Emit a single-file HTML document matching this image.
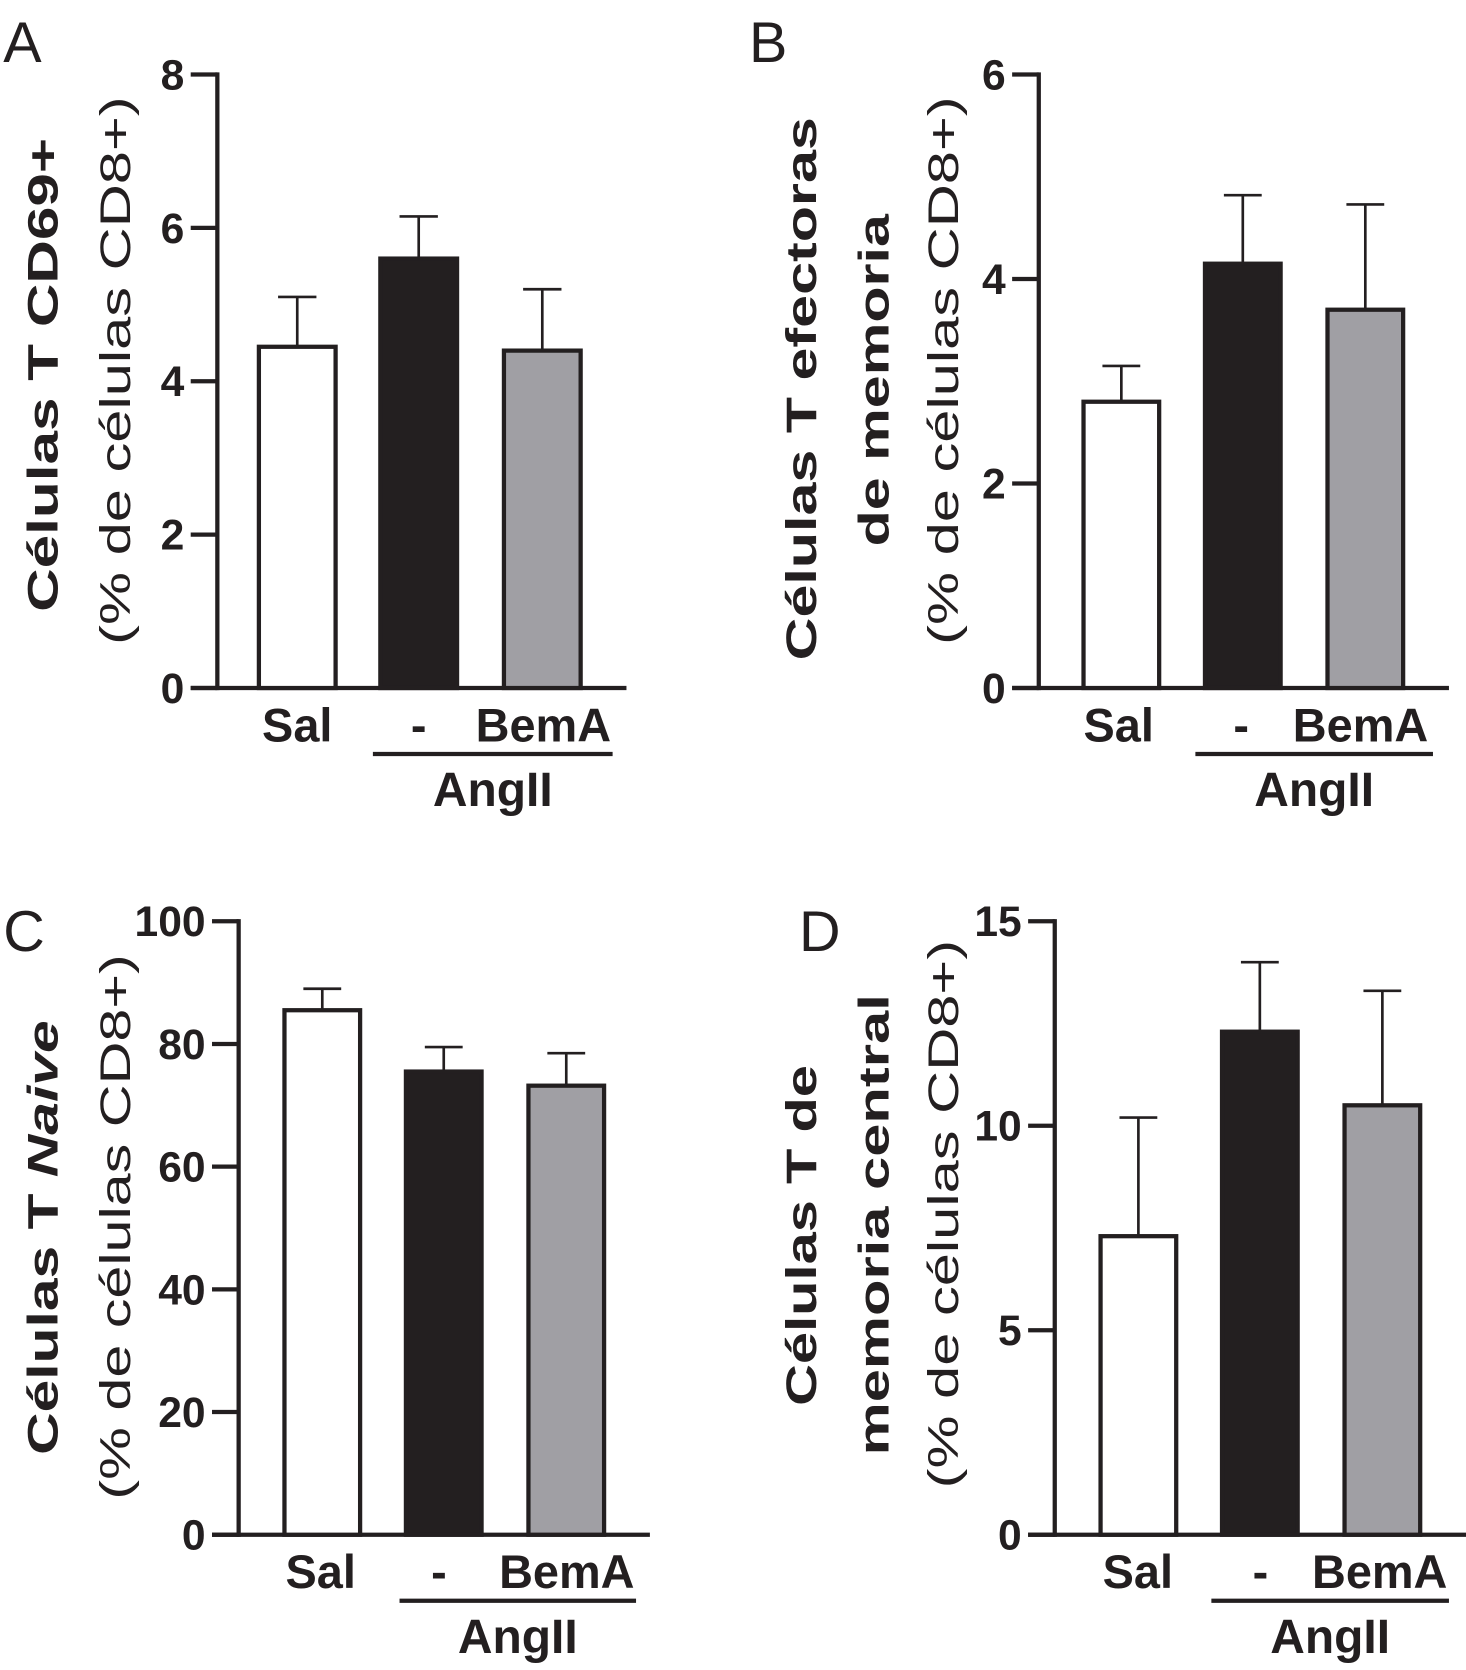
<!DOCTYPE html>
<html><head><meta charset="utf-8">
<style>
html,body{margin:0;padding:0;background:#fff;}
svg{display:block;}
text{font-family:"Liberation Sans",Arial,sans-serif;fill:#231f20;}
</style></head>
<body>
<svg id="fig" width="1466" height="1670" viewBox="0 0 1376 1568" preserveAspectRatio="none" xmlns="http://www.w3.org/2000/svg"></svg>
<script>
const categories = ["Sal", "-", "BemA"];
const valuesA = [4.45, 5.6, 4.4];
const errorsA = [0.65, 0.55, 0.8];
const ticksA = [0, 2, 4, 6, 8];
const valuesB = [2.8, 4.15, 3.7];
const errorsB = [0.35, 0.67, 1.03];
const ticksB = [0, 2, 4, 6];
const valuesC = [85.5, 75.5, 73.2];
const errorsC = [3.5, 4.0, 5.3];
const ticksC = [0, 20, 40, 60, 80, 100];
const valuesD = [7.3, 12.3, 10.5];
const errorsD = [2.9, 1.7, 2.8];
const ticksD = [0, 5, 10, 15];
const groupLabel = "AngII";

const NS = "http://www.w3.org/2000/svg";
const svg = document.getElementById('fig');
const fills = ["#ffffff", "#231f20", "#a09fa4"];
function mk(tag, attrs, parent){
  const e = document.createElementNS(NS, tag);
  for (const k in attrs) e.setAttribute(k, attrs[k]);
  (parent||svg).appendChild(e);
  return e;
}
function txt(s, attrs, parent){ const t = mk('text', attrs, parent); t.textContent = s; return t; }

function panel(cfg){
  const g = mk('g', {});
  
  
  const yMax = cfg.ticks[cfg.ticks.length-1];
  const y = v => cfg.y0 - (v / yMax) * (cfg.y0 - cfg.yTop);
  const L = txt(cfg.letter, {x: cfg.letterX, y: cfg.letterY, 'font-size': 54}, g);
  
  
  cfg.titles.forEach(tl => {
    const t = mk('text', {transform: `translate(${tl.x},${tl.cy}) rotate(-90)`, 'text-anchor': 'middle',
      'font-size': 40, 'font-weight': tl.bold ? 'bold' : 'normal', textLength: tl.len, lengthAdjust: 'spacingAndGlyphs'}, g);
    
    
    if (tl.italic) {
      t.appendChild(document.createTextNode(tl.text));
      const ts = mk('tspan', {'font-style': 'italic'}, t); ts.textContent = tl.italic;
    } else t.textContent = tl.text;
  });
  const ya = mk('line', {x1: cfg.ax, y1: cfg.yTop - 2, x2: cfg.ax, y2: cfg.y0 + 2, stroke: '#231f20', 'stroke-width': 4}, g);
  
  
  const xa = mk('line', {x1: cfg.ax - 25, y1: cfg.y0, x2: cfg.xEnd, y2: cfg.y0, stroke: '#231f20', 'stroke-width': 4}, g);
  
  
  cfg.ticks.forEach(tv => {
    const tk = mk('line', {x1: cfg.ax - 25, y1: y(tv), x2: cfg.ax, y2: y(tv), stroke: '#231f20', 'stroke-width': 4}, g);
    
    
    const tl = txt(String(tv), {x: cfg.ax - 31, y: y(tv) + 14, 'text-anchor': 'end', 'font-size': 40, 'font-weight': 'bold'}, g);
    
    
  });
  cfg.values.forEach((v, i) => {
    const x0 = cfg.barX[i], w = cfg.barW, cx = x0 + w/2;
    const e = cfg.errors[i];
    const el = mk('line', {x1: cx, y1: y(v), x2: cx, y2: y(v + e), stroke: '#231f20', 'stroke-width': 2.5}, g);
    
    
    const cap = mk('line', {x1: cx - w/4, y1: y(v + e), x2: cx + w/4, y2: y(v + e), stroke: '#231f20', 'stroke-width': 2.5}, g);
    
    
    const r = mk('rect', {x: x0, y: y(v), width: w, height: cfg.y0 - y(v), fill: fills[i], stroke: '#231f20', 'stroke-width': 4}, g);
    
    
    const lab = txt(categories[i], {x: cfg.labX[i], y: cfg.y0 + 50, 'text-anchor': 'middle', 'font-size': 44, 'font-weight': 'bold'}, g);
    
    
  });
  const gl = mk('line', {x1: cfg.grpX1, y1: cfg.y0 + 62, x2: cfg.grpX2, y2: cfg.y0 + 62, stroke: '#231f20', 'stroke-width': 4}, g);
  
  
  const gt = txt(groupLabel, {x: (cfg.grpX1 + cfg.grpX2)/2, y: cfg.y0 + 111, 'text-anchor': 'middle', 'font-size': 45, 'font-weight': 'bold'}, g);
  
  
}

panel({letter:'A', letterX:3, letterY:58, ax:204, yTop:70, y0:646, xEnd:588, ticks:ticksA, values:valuesA, errors:errorsA,
  barX:[243,357,473], barW:72, labX:[279,393,510], grpX1:350, grpX2:575,
  titles:[{x:54, cy:352, len:445, bold:true, text:'Células T CD69+'},
          {x:122, cy:348, len:515, text:'(% de células CD8+)'}]});
panel({letter:'B', letterX:703, letterY:58, ax:975, yTop:70, y0:646, xEnd:1360, ticks:ticksB, values:valuesB, errors:errorsB,
  barX:[1017,1131,1246], barW:71, labX:[1050,1165,1277], grpX1:1122, grpX2:1345,
  titles:[{x:766, cy:365, len:510, bold:true, text:'Células T efectoras'},
          {x:834, cy:357, len:312, bold:true, text:'de memoria'},
          {x:899, cy:348, len:515, text:'(% de células CD8+)'}]});
panel({letter:'C', letterX:3, letterY:893, ax:224, yTop:865, y0:1441, xEnd:610, ticks:ticksC, values:valuesC, errors:errorsC,
  barX:[267,381,496], barW:71, labX:[301,412,532], grpX1:375, grpX2:597,
  titles:[{x:54, cy:1162, len:408, bold:true, text:'Células T ', italic:'Naive'},
          {x:122, cy:1152, len:512, text:'(% de células CD8+)'}]});
panel({letter:'D', letterX:750, letterY:893, ax:990, yTop:865, y0:1441, xEnd:1376, ticks:ticksD, values:valuesD, errors:errorsD,
  barX:[1033,1147,1262], barW:71, labX:[1068,1183,1295], grpX1:1137, grpX2:1360,
  titles:[{x:766, cy:1160, len:320, bold:true, text:'Células T de'},
          {x:834, cy:1150, len:433, bold:true, text:'memoria central'},
          {x:899, cy:1140, len:515, text:'(% de células CD8+)'}]});
</script>
</body></html>
